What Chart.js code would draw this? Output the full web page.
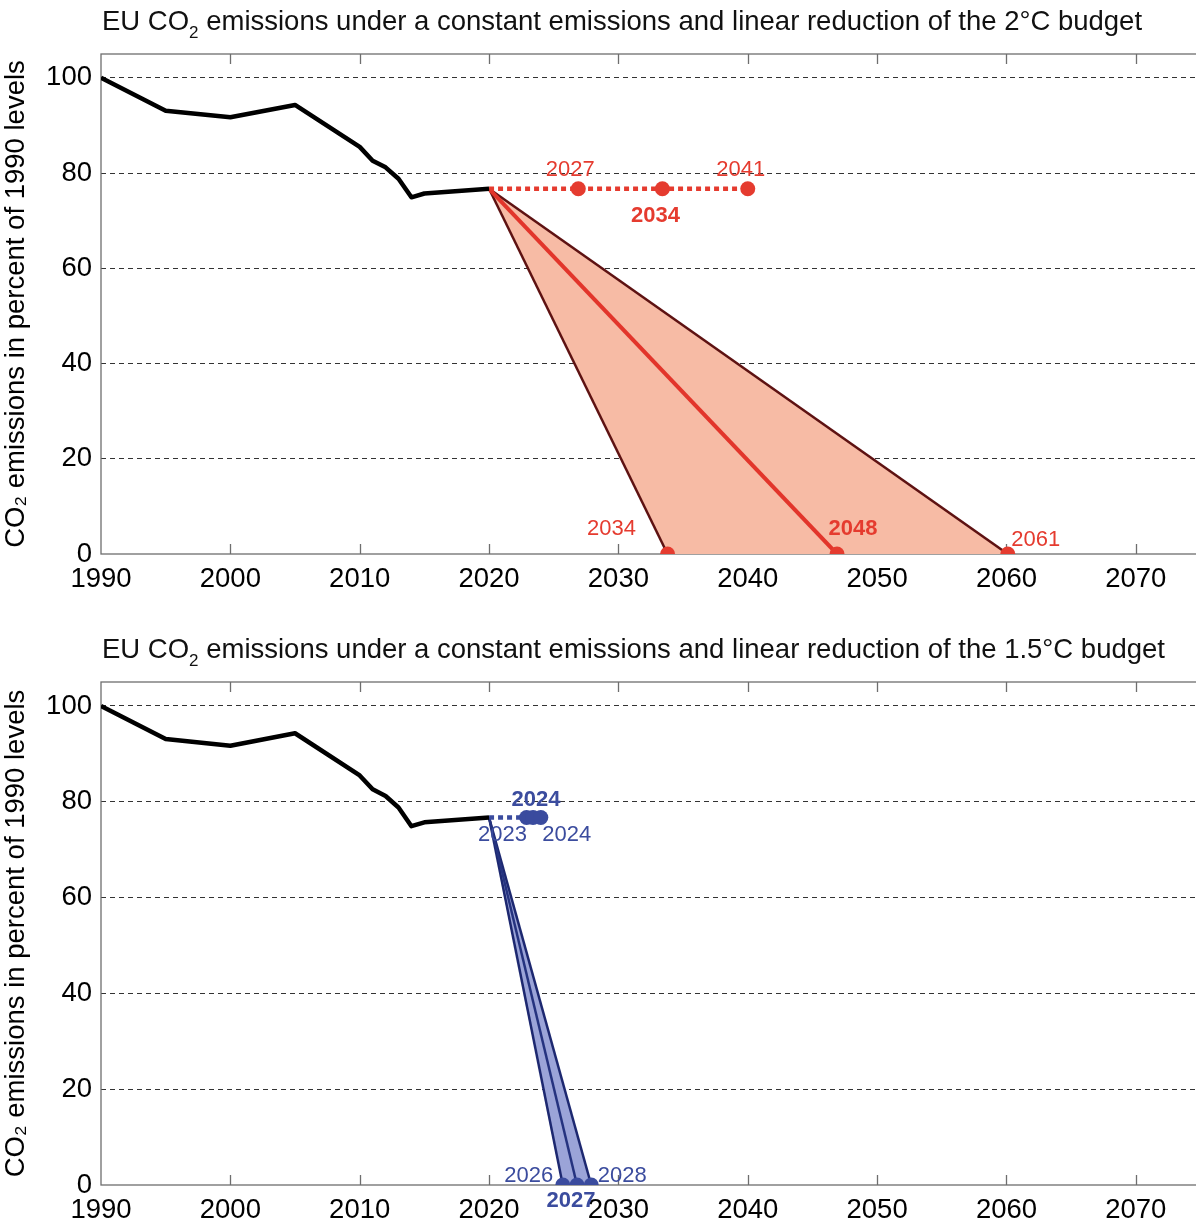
<!DOCTYPE html>
<html>
<head>
<meta charset="utf-8">
<script src="https://cdn.jsdelivr.net/npm/chart.js@4.4.1/dist/chart.umd.min.js"></script>
<style>
body { margin: 0; background: #fff; font-family: "Liberation Sans", Arial, sans-serif; overflow: hidden; }
.panel { position: absolute; left: 0; width: 1196px; height: 612px; overflow: hidden; }
.title { position: absolute; left: 102px; font-size: 27.5px; white-space: nowrap; color: #111; }
.title sub { font-size: 17px; vertical-align: -8px; line-height: 0; }
</style>
</head>
<body>
<div class="panel" style="top:0">
  <canvas id="chartTwo" width="1208" height="612"></canvas>
</div>
<div class="title" style="top:5px">EU CO<sub>2</sub> emissions under a constant emissions and linear reduction of the 2°C budget</div>
<div class="panel" style="top:613px">
  <canvas id="chartOneFive" width="1208" height="612"></canvas>
</div>
<div class="title" style="top:633px">EU CO<sub>2</sub> emissions under a constant emissions and linear reduction of the 1.5°C budget</div>
<script>
"use strict";

// historical EU emissions, % of 1990
const histYears = [1990, 1995, 2000, 2005, 2010, 2011, 2012, 2013, 2014, 2015, 2020];
const histValues = [100, 93.1, 91.7, 94.3, 85.5, 82.6, 81.2, 78.8, 74.9, 75.7, 76.7];

const startYear = 2020;
const startValue = 76.7;

// 2°C budget: year the budget runs out (constant emissions / linear reduction)
const twoConstYears = [2026.9, 2033.4, 2040.0];
const twoLinearYears = [2033.8, 2046.9, 2060.1];
const twoConstLabels = ['2027', '2034', '2041'];
const twoLinearLabels = ['2034', '2048', '2061'];

// 1.5°C budget
const oneFiveConstYears = [2022.9, 2023.4, 2024.0];
const oneFiveLinearYears = [2025.7, 2026.8, 2027.9];
const oneFiveConstLabels = ['2023', '2024', '2024'];
const oneFiveLinearLabels = ['2026', '2027', '2028'];

const xMin = 1990, xMax = 2075, xStep = 10;
const yMin = 0, yMax = 105, yStep = 20;

const fontFamily = '"Liberation Sans", Arial, sans-serif';

function pts(xs, ys) {
    return xs.map((x, i) => ({ x: x, y: ys[i] }));
}

// box around the plot + inward decade ticks on top and bottom
const framePlugin = {
    id: 'frame',
    beforeDatasetsDraw(chart) {
        const ctx = chart.ctx;
        const a = chart.chartArea;
        const xs = chart.scales.x;
        ctx.save();
        ctx.strokeStyle = '#6e6e6e';
        ctx.lineWidth = 1.3;
        ctx.strokeRect(a.left, a.top, a.right - a.left, a.bottom - a.top);
        ctx.beginPath();
        xs.ticks.forEach((t) => {
            const px = Math.round(xs.getPixelForValue(t.value)) + 0.5;
            if (px <= a.left + 1 || px >= a.right - 1) return;
            ctx.moveTo(px, a.top);
            ctx.lineTo(px, a.top + 10);
            ctx.moveTo(px, a.bottom);
            ctx.lineTo(px, a.bottom - 10);
        });
        ctx.stroke();
        ctx.restore();
    }
};

function makeLabelPlugin(items, color) {
    return {
        id: 'yearLabels',
        afterDatasetsDraw(chart) {
            const ctx = chart.ctx;
            const xs = chart.scales.x, ys = chart.scales.y;
            ctx.save();
            ctx.fillStyle = color;
            ctx.textAlign = 'center';
            ctx.textBaseline = 'middle';
            items.forEach((it) => {
                ctx.font = (it.bold ? 'bold ' : '') + '22px ' + fontFamily;
                ctx.fillText(it.text, xs.getPixelForValue(it.x) + it.dx, ys.getPixelForValue(it.y) + it.dy);
            });
            ctx.restore();
        }
    };
}

function makePanel(canvasId, constYears, linearYears, constLabels, linearLabels, style) {
    const lastConst = constYears[constYears.length - 1];
    const steep = linearYears[0];
    const mid = linearYears[1];
    const outer = linearYears[linearYears.length - 1];

    const items = [];
    constYears.forEach((yr, i) => items.push({ x: yr, y: startValue, text: constLabels[i],
        dx: style.constOffsets[i][0], dy: style.constOffsets[i][1], bold: i === 1 }));
    linearYears.forEach((yr, i) => items.push({ x: yr, y: 0, text: linearLabels[i],
        dx: style.linearOffsets[i][0], dy: style.linearOffsets[i][1], bold: i === 1 }));

    const dots = pts(constYears, constYears.map(() => startValue))
        .concat(pts(linearYears, linearYears.map(() => 0)));

    const ctx = document.getElementById(canvasId).getContext('2d');
    return new Chart(ctx, {
        type: 'line',
        data: {
            datasets: [{
                data: pts(histYears, histValues),
                borderColor: '#000',
                borderWidth: 4.5,
                borderJoinStyle: 'round',
                pointRadius: 0,
                order: 1
            }, {
                data: pts([startYear, lastConst], [startValue, startValue]),
                borderColor: style.main,
                borderWidth: 4.5,
                borderDash: [5, 4],
                pointRadius: 0,
                order: 2
            }, {
                data: pts([startYear, outer], [startValue, 0]),
                borderColor: style.edge,
                borderWidth: 2.5,
                pointRadius: 0,
                fill: { target: 3 },
                backgroundColor: style.fill,
                order: 6
            }, {
                data: pts([startYear, steep, outer], [startValue, 0, 0]),
                borderWidth: 0,
                borderColor: 'rgba(0,0,0,0)',
                pointRadius: 0,
                order: 7
            }, {
                data: pts([startYear, steep], [startValue, 0]),
                borderColor: style.edge,
                borderWidth: 2.5,
                pointRadius: 0,
                order: 5
            }, {
                data: pts([startYear, mid], [startValue, 0]),
                borderColor: style.mid,
                borderWidth: style.midWidth,
                pointRadius: 0,
                order: 4
            }, {
                data: dots,
                showLine: false,
                pointRadius: 7.5,
                pointBackgroundColor: style.main,
                pointBorderWidth: 0,
                clip: 0,
                order: 0
            }]
        },
        options: {
            responsive: false,
            animation: false,
            layout: { padding: { top: style.top, bottom: style.bottom, left: 0, right: 0 } },
            plugins: { legend: { display: false }, tooltip: { enabled: false }, title: { display: false } },
            scales: {
                x: {
                    type: 'linear',
                    min: xMin,
                    max: xMax,
                    grid: { display: false, drawTicks: false },
                    border: { display: false },
                    ticks: {
                        stepSize: xStep,
                        includeBounds: false,
                        padding: 9,
                        maxRotation: 0,
                        color: '#000',
                        font: { size: 27.5, family: fontFamily },
                        callback: (v) => String(v)
                    },
                    afterFit: (s) => { s.height = 40; }
                },
                y: {
                    min: yMin,
                    max: yMax,
                    grid: {
                        drawTicks: false,
                        color: (c) => (c.tick && c.tick.value === 0) ? 'rgba(0,0,0,0)' : '#333',
                        lineWidth: 1
                    },
                    border: { display: false, dash: [5, 4] },
                    ticks: {
                        stepSize: yStep,
                        includeBounds: false,
                        padding: 9,
                        color: '#000',
                        font: { size: 27.5, family: fontFamily }
                    },
                    title: {
                        display: true,
                        text: 'CO₂ emissions in percent of 1990 levels',
                        color: '#000',
                        font: { size: 27.5, family: fontFamily },
                        padding: { top: 0, bottom: 0 }
                    },
                    afterFit: (s) => { s.width = 101; }
                }
            }
        },
        plugins: [framePlugin, makeLabelPlugin(items, style.label)]
    });
}

const chartTwo = makePanel('chartTwo', twoConstYears, twoLinearYears, twoConstLabels, twoLinearLabels, {
    main: '#e53b2f',
    mid: '#e2352b',
    midWidth: 4,
    edge: '#5e1212',
    fill: '#f7bba5',
    label: '#e53b2f',
    top: 54,
    bottom: 18,
    constOffsets: [[-8, -19], [-7, 27], [-7, -19]],
    linearOffsets: [[-56, -25], [16, -25], [28, -14]]
});

const chartOneFive = makePanel('chartOneFive', oneFiveConstYears, oneFiveLinearYears, oneFiveConstLabels, oneFiveLinearLabels, {
    main: '#3a4b9e',
    mid: '#25337f',
    midWidth: 2.5,
    edge: '#1d2870',
    fill: '#9ba4d8',
    label: '#3b4c9e',
    top: 69,
    bottom: 0,
    constOffsets: [[-24, 17], [3, -18], [26, 17]],
    linearOffsets: [[-34, -9], [-6, 16], [31, -9]]
});
</script>
</body>
</html>
